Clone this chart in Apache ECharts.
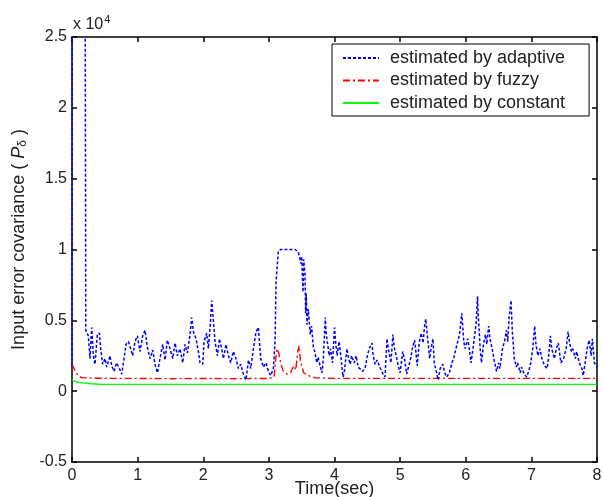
<!DOCTYPE html>
<html>
<head>
<meta charset="utf-8">
<script src="https://cdn.jsdelivr.net/npm/echarts@6/dist/echarts.min.js"></script>
<style>
html,body{margin:0;padding:0;background:#fff;}
#chart{width:603px;height:497px;}
</style>
</head>
<body>
<div id="chart"></div>
<script>
// values in units of 10^4
const xTicks = [0,1,2,3,4,5,6,7,8];
const yTicks = [-0.5,0,0.5,1,1.5,2,2.5];
const seriesNames = ['estimated by adaptive','estimated by fuzzy','estimated by constant'];

const adaptiveT = [0,0.005,0.2,0.21,0.249,0.274,0.30,0.325,0.35,0.386,0.417,0.437,0.467,0.503,0.528,0.579,0.605,0.64,0.681,0.722,0.757,0.793,0.823,0.859,0.894,0.925,0.96,0.996,1.036,1.077,1.113,1.148,1.189,1.23,1.265,1.301,1.341,1.382,1.418,1.453,1.494,1.535,1.57,1.606,1.646,1.687,1.722,1.758,1.799,1.824,1.85,1.89,1.926,1.951,1.992,2.012,2.053,2.078,2.104,2.129,2.155,2.18,2.216,2.246,2.281,2.307,2.347,2.383,2.419,2.459,2.5,2.535,2.571,2.612,2.652,2.688,2.724,2.764,2.805,2.84,2.876,2.917,2.957,2.993,3.028,3.069,3.094,3.11,3.145,3.18,3.4,3.45,
3.47,3.49,3.50,3.52,3.53,3.55,3.56,3.57,3.58,3.60,3.63,3.65,3.68,3.70,3.73,3.75,3.78,3.81,3.83,3.86,3.87,3.89,3.92,3.94,3.97,4.00,4.02,4.04,4.07,4.10,4.13,4.15,4.19,4.21,4.24,4.26,4.30,4.33,4.36,4.39,4.43,4.47,4.50,4.53,4.57,4.59,4.62,4.65,4.70,4.74,4.77,4.80,4.82,4.86,4.89,4.91,4.95,4.97,5.00,5.04,5.07,5.10,5.13,5.16,5.19,5.22,5.24,5.26,5.29,5.32,5.35,5.37,5.39,5.42,5.45,5.47,5.50,5.52,5.56,5.58,5.61,5.65,5.68,5.71,5.75,5.79,5.82,5.85,5.89,5.91,5.94,5.97,5.99,6.03,6.06,6.08,6.11,6.13,6.16,6.18,6.19,6.22,6.24,6.27,6.30,6.32,6.35,6.37,6.41,6.44,6.47,6.50,6.52,6.56,6.59,6.62,6.64,6.66,6.69,6.71,6.74,6.77,6.79,6.83,6.85,6.89,6.93,6.97,6.99,7.02,7.05,7.07,7.10,7.13,7.16,7.20,7.24,7.26,7.29,7.31,7.35,7.38,7.41,7.45,7.49,7.53,7.56,7.58,7.61,7.63,7.67,7.69,7.73,7.77,7.79,7.82,7.85,7.88,7.91,7.93,7.96,7.99,8.00];
const adaptiveV = [0.18,3.0,3.0,0.43,0.39,0.23,0.45,0.25,0.19,0.40,0.41,0.30,0.19,0.23,0.17,0.25,0.18,0.14,0.20,0.16,0.12,0.23,0.33,0.35,0.30,0.25,0.35,0.39,0.28,0.39,0.43,0.31,0.23,0.29,0.19,0.13,0.23,0.33,0.22,0.36,0.30,0.23,0.34,0.25,0.30,0.20,0.33,0.27,0.40,0.52,0.42,0.37,0.28,0.20,0.19,0.35,0.41,0.30,0.45,0.64,0.49,0.35,0.25,0.37,0.30,0.23,0.33,0.25,0.20,0.28,0.23,0.16,0.19,0.12,0.08,0.22,0.16,0.30,0.42,0.45,0.23,0.17,0.20,0.14,0.11,0.16,0.35,0.78,0.99,1.0,1.0,0.98,
0.99,0.90,0.95,0.70,0.93,0.83,0.55,0.69,0.47,0.58,0.40,0.46,0.30,0.28,0.20,0.24,0.18,0.13,0.23,0.52,0.42,0.35,0.25,0.30,0.20,0.45,0.33,0.25,0.35,0.23,0.10,0.14,0.30,0.24,0.19,0.25,0.20,0.25,0.17,0.16,0.14,0.17,0.25,0.30,0.34,0.25,0.19,0.22,0.16,0.12,0.10,0.37,0.30,0.20,0.40,0.31,0.23,0.18,0.13,0.28,0.22,0.12,0.11,0.23,0.31,0.36,0.28,0.18,0.34,0.41,0.34,0.45,0.51,0.37,0.23,0.30,0.37,0.20,0.12,0.08,0.16,0.19,0.13,0.10,0.13,0.20,0.24,0.30,0.37,0.42,0.55,0.35,0.30,0.37,0.28,0.20,0.30,0.37,0.49,0.67,0.54,0.30,0.20,0.33,0.40,0.33,0.46,0.37,0.28,0.20,0.14,0.20,0.16,0.30,0.35,0.43,0.35,0.52,0.64,0.42,0.23,0.17,0.20,0.13,0.17,0.12,0.10,0.16,0.20,0.30,0.46,0.33,0.25,0.30,0.23,0.18,0.16,0.23,0.39,0.30,0.23,0.30,0.34,0.20,0.23,0.30,0.42,0.35,0.28,0.30,0.23,0.28,0.20,0.16,0.11,0.20,0.30,0.36,0.25,0.37,0.20,0.18,0.17];

const fuzzyT = [0,0.03,0.06,0.10,0.15,0.3,0.6,1.0,1.5,2.0,2.5,3.0,3.08,3.12,3.15,3.18,3.22,3.28,3.33,3.38,3.41,3.44,3.46,3.48,3.50,3.53,3.60,3.70,4.0,5.0,6.0,7.0,8.0];
const fuzzyV = [0.19,0.16,0.13,0.11,0.095,0.092,0.09,0.09,0.088,0.09,0.088,0.09,0.10,0.30,0.27,0.20,0.14,0.12,0.13,0.18,0.15,0.28,0.32,0.22,0.18,0.13,0.11,0.095,0.09,0.09,0.09,0.09,0.09];

const constantT = [0,0.02,0.05,0.10,0.20,0.30,0.45,8.0];
const constantV = [0.08,0.075,0.068,0.062,0.057,0.052,0.048,0.048];

const zip = (a,b) => a.map((t,i) => [t,b[i]]);
const FONT = '"Liberation Sans", Arial, sans-serif';
const TXT = '#222';

const chart = echarts.init(document.getElementById('chart'), null, {renderer:'canvas'});
const axisLine = {show:true, onZero:false, lineStyle:{color:'#000', width:1.5}};
const axisTick = {show:true, inside:true, length:5, lineStyle:{color:'#000', width:1.5}};
chart.setOption({
  animation:false,
  backgroundColor:'#fff',
  grid:{left:72, right:6, top:37, bottom:35, outerBoundsMode:'none', containLabel:false},
  legend:{
    orient:'vertical', left:332, top:44,
    data:seriesNames,
    itemWidth:36, itemHeight:14, itemGap:4.5,
    padding:[5,24,4,10],
    borderColor:'#000', borderWidth:1, backgroundColor:'#fff',
    itemStyle:{color:'rgba(0,0,0,0)', borderWidth:0, opacity:0},
    textStyle:{fontFamily:FONT, fontSize:18, color:TXT, padding:[0,0,0,6]}
  },
  xAxis:[
    {type:'value', min:0, max:8, interval:1, position:'bottom',
     axisLine, axisTick, splitLine:{show:false},
     axisLabel:{fontFamily:FONT, fontSize:16, color:TXT, margin:6},
     name:'Time(sec)', nameLocation:'middle', nameGap:18, nameMoveOverlap:false,
     nameTextStyle:{fontFamily:FONT, fontSize:18, color:TXT}},
    {type:'value', min:0, max:8, interval:1, position:'top',
     axisLine, axisTick, splitLine:{show:false}, axisLabel:{show:false}}
  ],
  yAxis:[
    {type:'value', min:-0.5, max:2.5, interval:0.5, position:'left',
     axisLine, axisTick, splitLine:{show:false},
     axisLabel:{fontFamily:FONT, fontSize:16, color:TXT, margin:5},
     name:'Input error covariance ( {p|P}{d|δ} )', nameLocation:'middle', nameGap:43, nameMoveOverlap:false,
     nameTextStyle:{fontFamily:FONT, fontSize:18, color:TXT, padding:[0,0,0,20],
       rich:{p:{fontFamily:FONT, fontSize:18, fontStyle:'italic', color:TXT},
             d:{fontFamily:FONT, fontSize:12, color:TXT, padding:[8,0,0,0]}}}},
    {type:'value', min:-0.5, max:2.5, interval:0.5, position:'right',
     axisLine, axisTick, splitLine:{show:false}, axisLabel:{show:false}}
  ],
  graphic:[
    {type:'text', left:73, top:14, style:{text:'x 10{s|4}', fontFamily:FONT, fontSize:16, fill:TXT,
      rich:{s:{fontFamily:FONT, fontSize:11, fill:TXT, padding:[0,0,10,1]}}}}
  ],
  series:[
    {name:seriesNames[0], type:'line', symbol:'none', clip:true, z:3,
     data:zip(adaptiveT, adaptiveV),
     lineStyle:{color:'#0000ff', width:1.5, type:[3,2]}, itemStyle:{color:'#0000ff'}},
    {name:seriesNames[1], type:'line', symbol:'none', clip:true, z:2,
     data:zip(fuzzyT, fuzzyV),
     lineStyle:{color:'#ff0000', width:1.4, type:[7,3,2,3]}, itemStyle:{color:'#ff0000'}},
    {name:seriesNames[2], type:'line', symbol:'none', clip:true, z:1,
     data:zip(constantT, constantV),
     lineStyle:{color:'#00ff00', width:1.4, type:'solid'}, itemStyle:{color:'#00ff00'}}
  ]
});
</script>
</body>
</html>
